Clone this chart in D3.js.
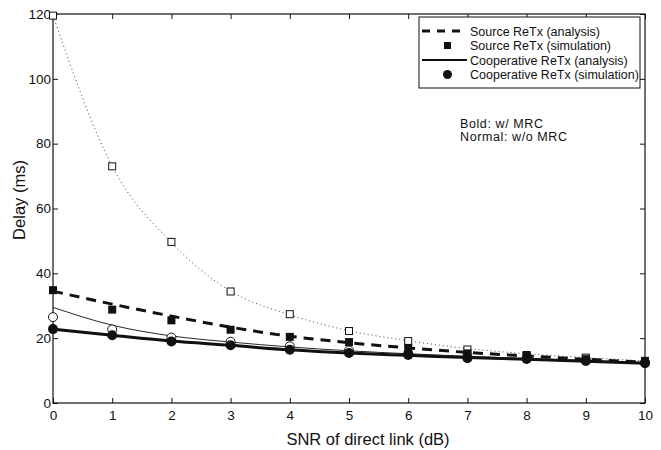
<!DOCTYPE html>
<html><head><meta charset="utf-8">
<script src="https://cdn.jsdelivr.net/npm/d3@7"></script>
<style>
html,body{margin:0;padding:0;background:#fff;}
svg{display:block;font-family:"Liberation Sans",Arial,Helvetica,sans-serif;}
</style></head>
<body><svg id="chart" width="661" height="450"></svg>
<script>
const snr = [0,1,2,3,4,5,6,7,8,9,10];
const xTicks = [0,1,2,3,4,5,6,7,8,9,10];
const yTicks = [0,20,40,60,80,100,120];
// Bold: w/ MRC
const srcAnaMRC  = [34.5, 30.5, 26.8, 23.4, 20.6, 18.6, 17.0, 15.6, 14.5, 13.5, 12.6];
const srcSimMRC  = [34.8, 28.8, 25.5, 22.6, 20.4, 18.8, 17.0, 15.3, 14.5, 13.5, 12.8];
const coopAnaMRC = [22.8, 20.9, 19.1, 17.8, 16.4, 15.4, 14.7, 14.0, 13.5, 12.9, 12.3];
const coopSimMRC = [22.8, 20.9, 19.0, 17.8, 16.4, 15.4, 14.8, 13.8, 13.6, 13.0, 12.3];
// Normal: w/o MRC
const srcAnaNo  = [119.5, 73.0, 49.5, 34.5, 27.2, 22.3, 19.2, 16.8, 15.2, 14.0, 13.0];
const srcSimNo  = [119.5, 73.0, 49.7, 34.4, 27.4, 22.2, 19.1, 16.5, 14.8, 14.0, 13.0];
const coopAnaNo = [29.5, 24.0, 20.7, 18.8, 17.3, 16.1, 15.2, 14.4, 13.7, 13.1, 12.5];
const coopSimNo = [26.5, 22.7, 20.2, 18.9, 17.5, 16.2, 15.3, 14.5, 13.8, 13.1, 12.5];
const legendLabels = ["Source ReTx (analysis)","Source ReTx (simulation)","Cooperative ReTx (analysis)","Cooperative ReTx (simulation)"];

const svg = d3.select("#chart");
const L=53,R=645,T=14,B=403;
const x = d3.scaleLinear().domain([0,10]).range([L,R]);
const y = d3.scaleLinear().domain([0,120]).range([B,T]);
const ink="#111";

// frame
svg.append("rect").attr("x",L).attr("y",T).attr("width",R-L).attr("height",B-T)
  .attr("fill","none").attr("stroke",ink).attr("stroke-width",1.2);

function styleAxis(g){ g.select(".domain").remove(); g.selectAll("line").attr("stroke",ink);
  g.selectAll("text").attr("fill",ink).style("font-size","13.5px").style("font-family","Liberation Sans, Arial, sans-serif"); }

svg.append("g").attr("transform",`translate(0,${B})`)
  .call(d3.axisBottom(x).tickValues(xTicks).tickSizeInner(-5).tickSizeOuter(0).tickPadding(7).tickFormat(d3.format("d")))
  .call(styleAxis);
svg.append("g").attr("transform",`translate(0,${T})`)
  .call(d3.axisTop(x).tickValues(xTicks).tickSizeInner(-5).tickSizeOuter(0).tickFormat(""))
  .call(styleAxis);
svg.append("g").attr("transform",`translate(${L},0)`)
  .call(d3.axisLeft(y).tickValues(yTicks).tickSizeInner(-5).tickSizeOuter(0).tickPadding(2).tickFormat(d3.format("d")))
  .call(styleAxis);
svg.append("g").attr("transform",`translate(${R},0)`)
  .call(d3.axisRight(y).tickValues(yTicks).tickSizeInner(-5).tickSizeOuter(0).tickFormat(""))
  .call(styleAxis);

// axis titles
svg.append("text").attr("x",368).attr("y",445).attr("text-anchor","middle")
  .style("font-size","16.5px").attr("fill",ink).text("SNR of direct link (dB)");
svg.append("text").attr("transform",`translate(25,200) rotate(-90)`).attr("text-anchor","middle")
  .style("font-size","16.5px").attr("fill",ink).text("Delay (ms)");

const line = d3.line().x((d,i)=>x(snr[i])).y(d=>y(d)).curve(d3.curveMonotoneX);
const plot = svg.append("g");

// normal lines
plot.append("path").datum(srcAnaNo).attr("d",line).attr("fill","none").attr("stroke","#444")
  .attr("stroke-width",1).attr("stroke-dasharray","1,3");
plot.append("path").datum(coopAnaNo).attr("d",line).attr("fill","none").attr("stroke",ink).attr("stroke-width",0.9);
// bold lines
plot.append("path").datum(srcAnaMRC).attr("d",line).attr("fill","none").attr("stroke",ink)
  .attr("stroke-width",3).attr("stroke-dasharray","10,7");
plot.append("path").datum(coopAnaMRC).attr("d",line).attr("fill","none").attr("stroke",ink).attr("stroke-width",3);

// markers
plot.selectAll(".osq").data(srcSimNo).join("rect").attr("x",(d,i)=>x(snr[i])-3.5).attr("y",d=>y(d)-3.5)
  .attr("width",7).attr("height",7).attr("fill","#fff").attr("stroke",ink).attr("stroke-width",1);
plot.selectAll(".ocir").data(coopSimNo).join("circle").attr("cx",(d,i)=>x(snr[i])).attr("cy",d=>y(d))
  .attr("r",4.5).attr("fill","#fff").attr("stroke",ink).attr("stroke-width",1);
plot.selectAll(".fsq").data(srcSimMRC).join("rect").attr("x",(d,i)=>x(snr[i])-4).attr("y",d=>y(d)-4)
  .attr("width",8).attr("height",8).attr("fill",ink);
plot.selectAll(".fcir").data(coopSimMRC).join("circle").attr("cx",(d,i)=>x(snr[i])).attr("cy",d=>y(d))
  .attr("r",5).attr("fill",ink);

// legend
const lg = svg.append("g");
lg.append("rect").attr("x",419).attr("y",17).attr("width",221).attr("height",71)
  .attr("fill","#fff").attr("stroke",ink).attr("stroke-width",1);
const rowY = [31,45.5,60,74.5];
lg.append("line").attr("x1",422).attr("x2",467).attr("y1",rowY[0]).attr("y2",rowY[0])
  .attr("stroke",ink).attr("stroke-width",3).attr("stroke-dasharray","8,7");
lg.append("rect").attr("x",444).attr("y",rowY[1]-3.5).attr("width",7).attr("height",7).attr("fill",ink);
lg.append("line").attr("x1",422).attr("x2",467).attr("y1",rowY[2]).attr("y2",rowY[2])
  .attr("stroke",ink).attr("stroke-width",2);
lg.append("circle").attr("cx",447.5).attr("cy",rowY[3]).attr("r",4.5).attr("fill",ink);
lg.selectAll("text").data(legendLabels).join("text").attr("x",470).attr("y",(d,i)=>rowY[i]+4.5)
  .style("font-size","12.5px").attr("fill",ink).text(d=>d);

svg.append("text").attr("x",460).attr("y",128).style("font-size","12.5px").style("letter-spacing","0.6px")
  .attr("fill",ink).text("Bold: w/ MRC");
svg.append("text").attr("x",460).attr("y",141).style("font-size","12.5px").style("letter-spacing","0.6px")
  .attr("fill",ink).text("Normal: w/o MRC");
</script></body></html>
